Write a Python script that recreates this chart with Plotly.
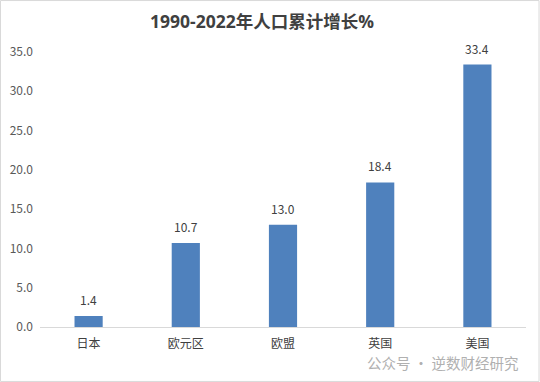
import plotly.graph_objects as go

categories = ["日本", "欧元区", "欧盟", "英国", "美国"]
values = [1.4, 10.7, 13.0, 18.4, 33.4]
y_ticks = [0, 5, 10, 15, 20, 25, 30, 35]
y_tick_labels = ["0.0", "5.0", "10.0", "15.0", "20.0", "25.0", "30.0", "35.0"]
title = "1990-2022年人口累计增长%"

W, H = 540, 382
ml, mr, mt, mb = 40, 14, 52, 55

fig = go.Figure(go.Bar(
    x=categories, y=values,
    marker=dict(color="#4F81BD", line=dict(width=0)),
    width=0.29,
))

for c, v in zip(categories, values):
    fig.add_annotation(x=c, y=v, text=f"{v:.1f}", showarrow=False,
                       yanchor="bottom", yshift=6,
                       font=dict(size=12, color="#404040"))

fig.update_layout(
    width=W, height=H,
    margin=dict(l=ml, r=mr, t=mt, b=mb, autoexpand=False),
    paper_bgcolor="white", plot_bgcolor="white",
    font=dict(family="Noto Sans CJK SC, sans-serif", color="#595959", size=12),
    title=dict(text=f"<b>{title}</b>", x=262 / W, xanchor="center", xref="container",
               y=1 - 22 / H, yanchor="middle", yref="container",
               font=dict(size=17.5, color="#404040", family="Open Sans, Noto Sans CJK SC, sans-serif")),
    showlegend=False,
    xaxis=dict(showgrid=False, showline=True, linecolor="#d9d9d9", linewidth=1, ticks="",
               automargin=False, ticklabelstandoff=6, tickfont=dict(size=12, color="#404040")),
    yaxis=dict(range=[0, 35], tickvals=y_ticks, ticktext=y_tick_labels, showgrid=False,
               zeroline=False, showline=False, ticks="", ticklabelstandoff=6,
               automargin=False, tickfont=dict(size=12, color="#595959")),
)

# light frame around the chart area
fig.add_shape(type="rect", xref="paper", yref="paper",
              x0=-ml / (W - ml - mr) + 0.001, x1=1 + mr / (W - ml - mr) - 0.002,
              y0=-mb / (H - mt - mb) + 0.002, y1=1 + mt / (H - mt - mb) - 0.002,
              line=dict(color="#d9d9d9", width=1))

# watermark
fig.add_annotation(text="公众号 · 逆数财经研究", xref="paper", yref="paper",
                   x=(521 - ml) / (W - ml - mr), y=-(362 - (H - mb)) / (H - mt - mb),
                   xanchor="right", yanchor="middle", showarrow=False,
                   font=dict(size=14.5, color="#b0b0b0"))

fig.write_html("out.html", config={"displayModeBar": False},
               post_script="document.body.style.margin='0';document.body.style.overflow='hidden';")
